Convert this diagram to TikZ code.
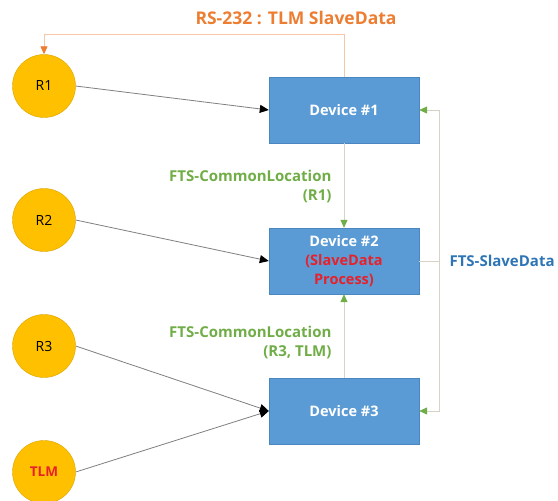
\documentclass[tikz,border=0pt]{standalone}
\usepackage{fontspec}
\setmainfont{Open Sans}
\usetikzlibrary{arrows.meta, positioning}

\definecolor{devblue}{HTML}{5B9BD5}
\definecolor{devedge}{HTML}{4A86BF}
\definecolor{sensyellow}{HTML}{FFC000}
\definecolor{sensedge}{HTML}{D9A400}
\definecolor{rsorange}{HTML}{ED7D31}
\definecolor{rsline}{HTML}{F6C7A6}
\definecolor{ftsgreen}{HTML}{70AD47}
\definecolor{ftsline}{HTML}{D8D2C4}
\definecolor{ftsblue}{HTML}{2E75B6}
\definecolor{alertred}{HTML}{E8202A}
\definecolor{feedgray}{HTML}{7F7F7F}

\begin{document}
\begin{tikzpicture}[x=1pt, y=-1pt,
    device/.style={draw=devedge, fill=devblue, minimum width=150pt, minimum height=66pt,
        inner sep=0pt, align=center, text=white, font=\bfseries\fontsize{14.5}{19}\selectfont},
    sensor/.style={circle, draw=sensedge, fill=sensyellow, minimum size=63pt, inner sep=0pt,
        font=\fontsize{14}{16}\selectfont},
    feed/.style={draw=feedgray, line width=0.8pt, -{Triangle[length=9pt, width=8pt, color=black]}},
    common/.style={draw=ftsline, line width=0.8pt, -{Triangle[length=8pt, width=7pt, color=ftsgreen]}},
    rsline/.style={draw=rsline, line width=0.8pt, -{Triangle[length=8pt, width=7pt, color=rsorange]}},
    lbl/.style={font=\bfseries\fontsize{15}{19}\selectfont}]
    \useasboundingbox (0,0) rectangle (558,501);

    % Devices
    \node[device] (dev1) at (344,110) {Device \#1};
    \node[device] (dev2) at (344,261) {Device \#2\\\textcolor{alertred}{(SlaveData}\\\textcolor{alertred}{Process)}};
    \node[device] (dev3) at (344,411) {Device \#3};

    % Sensors
    \node[sensor] (r1) at (44,86) {R1};
    \node[sensor] (r2) at (44,220) {R2};
    \node[sensor] (r3) at (44,346) {R3};
    \node[sensor, text=alertred, font=\bfseries\fontsize{13.5}{16}\selectfont] (tlm) at (44,472) {TLM};

    % Sensor feeds
    \draw[feed] (r1.east) -- (dev1.west);
    \draw[feed] (r2.east) -- (dev2.west);
    \draw[feed] (r3.east) -- (dev3.west);
    \draw[feed] (tlm.east) -- (dev3.west);

    % RS-232 link back to R1
    \draw[rsline] (dev1.north) -- ++(0,-42) -| (r1.north);
    \node[lbl, text=rsorange, font=\bfseries\fontsize{17.5}{20}\selectfont] (rslabel) at (296,18) {RS-232 : TLM SlaveData};

    % Common location
    \draw[common] (dev1.south) -- (dev2.north);
    \draw[common] (dev3.north) -- (dev2.south);
    \node[lbl, text=ftsgreen, align=right, anchor=east] (cl1) at (335,186) {FTS-CommonLocation\\(R1)};
    \node[lbl, text=ftsgreen, align=right, anchor=east] (cl3) at (335,342) {FTS-CommonLocation\\(R3, TLM)};

    % Slave data bus
    \draw[ftsline, line width=0.8pt] (dev2.east) -- ++(20,0) coordinate (bus);
    \draw[common] (bus) |- (dev1.east);
    \draw[common] (bus) |- (dev3.east);
    \node[lbl, text=ftsblue, anchor=west] (slave) at (446,261) {FTS-SlaveData};
\end{tikzpicture}
\end{document}
